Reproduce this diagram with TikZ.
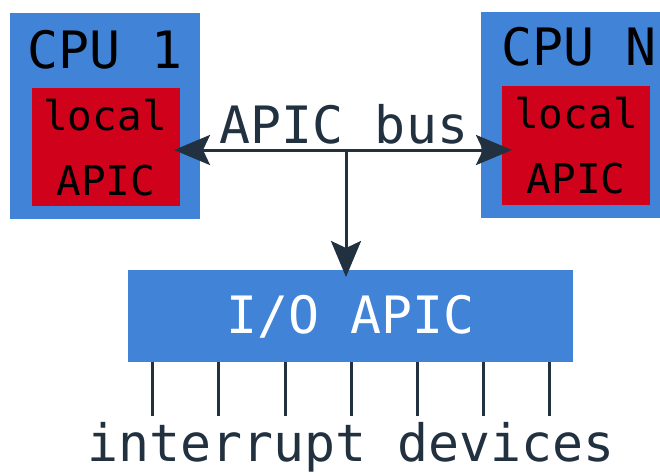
\documentclass[tikz,border=0pt]{standalone}
\usepackage{fontspec}
\setmonofont{DejaVu Sans Mono}
\usetikzlibrary{arrows.meta}
\definecolor{cpublue}{RGB}{65,131,215}
\definecolor{apicred}{RGB}{208,2,27}
\definecolor{inkdark}{RGB}{34,49,63}
\tikzset{
  label/.style={anchor=base, inner sep=0pt, font=\ttfamily\fontsize{51.5}{52}\selectfont},
  smalllabel/.style={anchor=base, inner sep=0pt, font=\ttfamily\fontsize{41}{41}\selectfont},
  wire/.style={draw=inkdark, line width=3pt},
  bustip/.style={{Stealth[length=36pt,width=30pt,inset=7pt]}-{Stealth[length=36pt,width=30pt,inset=7pt]}},
  tip/.style={-{Stealth[length=36pt,width=30pt,inset=7pt]}},
}
\begin{document}
\begin{tikzpicture}[x=1pt,y=-1pt]
\useasboundingbox (0,0) rectangle (660,475);

% CPU 1 with its local APIC
\fill[cpublue] (10,13) rectangle (200,219);
\fill[apicred] (32,88) rectangle (180,206);
\node[label] (cpu1) at (105,68) {CPU 1};
\node[smalllabel] (loc1) at (105,130) {local};
\node[smalllabel] (apic1) at (106,195) {APIC};

% CPU N with its local APIC
\fill[cpublue] (481,12) rectangle (662,218);
\fill[apicred] (502,86) rectangle (650,205);
\node[label] (cpun) at (579,65) {CPU N};
\node[smalllabel] (locn) at (576,128) {local};
\node[smalllabel] (apicn) at (576,193) {APIC};

% I/O APIC
\fill[cpublue] (128,270) rectangle (573,362);
\node[label, text=white] (io) at (350.5,333) {I/O APIC};

% APIC bus
\node[label, text=inkdark] (bus) at (344,143) {APIC bus};
\coordinate (busL) at (174,150);
\coordinate (busR) at (512,150);
\coordinate (busJ) at (346,150);
\coordinate (ioTop) at (346,277);
\draw[wire, bustip] (busL) -- (busR);
\draw[wire, tip] (busJ) -- (ioTop);

% interrupt lines
\foreach \x [count=\i] in {152,218,285,351,417,483,549} {
  \coordinate (irqTop\i) at (\x,362);
  \coordinate (irqBot\i) at (\x,416);
  \draw[wire] (irqTop\i) -- (irqBot\i);
}
\node[label, text=inkdark] (dev) at (351,461) {interrupt devices};
\end{tikzpicture}
\end{document}
